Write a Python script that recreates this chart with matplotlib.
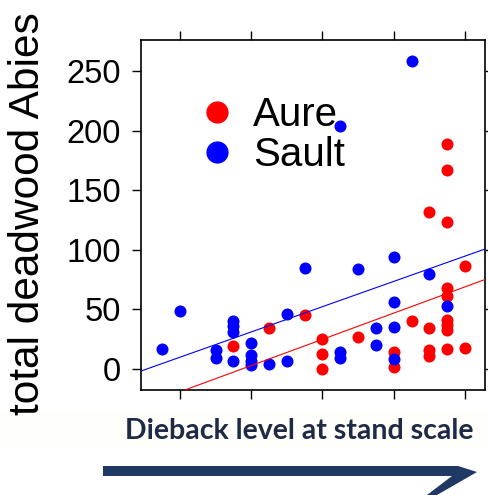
import matplotlib.pyplot as plt
from matplotlib.patches import Polygon, Rectangle
from matplotlib.lines import Line2D

# Dieback level (x) vs total deadwood Abies (y)
aure_x = [1.75, 2.25, 2.75, 3, 3, 3, 3.5, 4, 4, 4.25, 4.5, 4.5, 4.5, 4.5,
          4.75, 4.75, 4.75, 4.75, 4.75, 4.75, 4.75, 4.75, 4.75, 5, 5]
aure_y = [19, 34, 45, 25, 13, 0, 27, 14, 2, 40, 34, 16, 11, 132,
          189, 167, 123, 68, 61, 41, 37, 33, 17, 86, 18]

sault_x = [0.75, 1, 1.5, 1.5, 1.75, 1.75, 1.75, 1.75, 2, 2, 2, 2, 2.25, 2.5,
           2.5, 2.75, 3.25, 3.25, 3.25, 3.5, 3.75, 3.75, 4, 4, 4, 4, 4.25,
           4.5, 4.75]
sault_y = [17, 49, 16, 9, 40, 36, 31, 7, 22, 12, 7, 3, 4, 7,
           46, 85, 204, 14, 9, 84, 34, 20, 94, 56, 35, 8, 258,
           80, 53]

# fitted lines (intercept, slope)
aure_fit = (-41.1, 22.0)
sault_fit = (-11.3, 21.2)

x_ticks = [1, 2, 3, 4, 5]
y_ticks = [0, 50, 100, 150, 200, 250]

W, H = 489, 495
fig = plt.figure(figsize=(W / 100, H / 100), dpi=100)
ax = fig.add_axes([141 / W, 1 - 390 / H, (485 - 141) / W, (390 - 40) / H])

ax.scatter(aure_x, aure_y, s=75, color="red", linewidths=0, zorder=3)
ax.scatter(sault_x, sault_y, s=75, color="blue", linewidths=0, zorder=3)

ax.axline((0, aure_fit[0]), slope=aure_fit[1], color="red", lw=0.8, zorder=4)
ax.axline((0, sault_fit[0]), slope=sault_fit[1], color="blue", lw=0.8, zorder=4)

ax.set_xlim(0.453, 5.281)
ax.set_ylim(-17.6, 276)
ax.set_xticks(x_ticks)
ax.set_yticks(y_ticks)
ax.set_xticklabels([])
ax.tick_params(direction="out", length=6.5, width=1, top=True, right=True,
               labelsize=23.5, pad=8)
for lab in ax.get_yticklabels():
    lab.set_family("Liberation Sans")
for sp in ax.spines.values():
    sp.set_linewidth(1.2)

handles = [Line2D([], [], marker="o", ls="", color="red", markersize=15),
           Line2D([], [], marker="o", ls="", color="blue", markersize=15)]
ax.legend(handles, ["Aure", "Sault"], loc="upper left",
          bbox_to_anchor=(0.174, 0.84), frameon=False,
          prop={"family": "Liberation Sans", "size": 29},
          handlelength=0.8, handletextpad=0.5, labelspacing=0.05,
          borderaxespad=0, borderpad=0)

fig.text(28 / W, 1 - 214 / H, "total deadwood Abies", rotation=90,
         ha="center", va="center", fontsize=30.5, family="Liberation Sans")

# caption strip and arrow below the chart
fig.patches.append(Rectangle((0, 1 - 448 / H), 1, 36 / H, transform=fig.transFigure,
                             color="#fefefa", zorder=0))
fig.text(299 / W, 1 - 431 / H, "Dieback level at stand scale", ha="center",
         va="center", fontsize=20.5, weight="bold", family="Lato", color="#1f2a44")

arrow_px = [(103, 466), (458, 466), (477, 472), (437, 495), (427, 495),
            (452, 476), (103, 476)]
arrow = [(x / W, 1 - y / H) for x, y in arrow_px]
fig.patches.append(Polygon(arrow, closed=True, transform=fig.transFigure,
                           color="#1f3864", lw=0))

fig.savefig("out.png", dpi=100)
